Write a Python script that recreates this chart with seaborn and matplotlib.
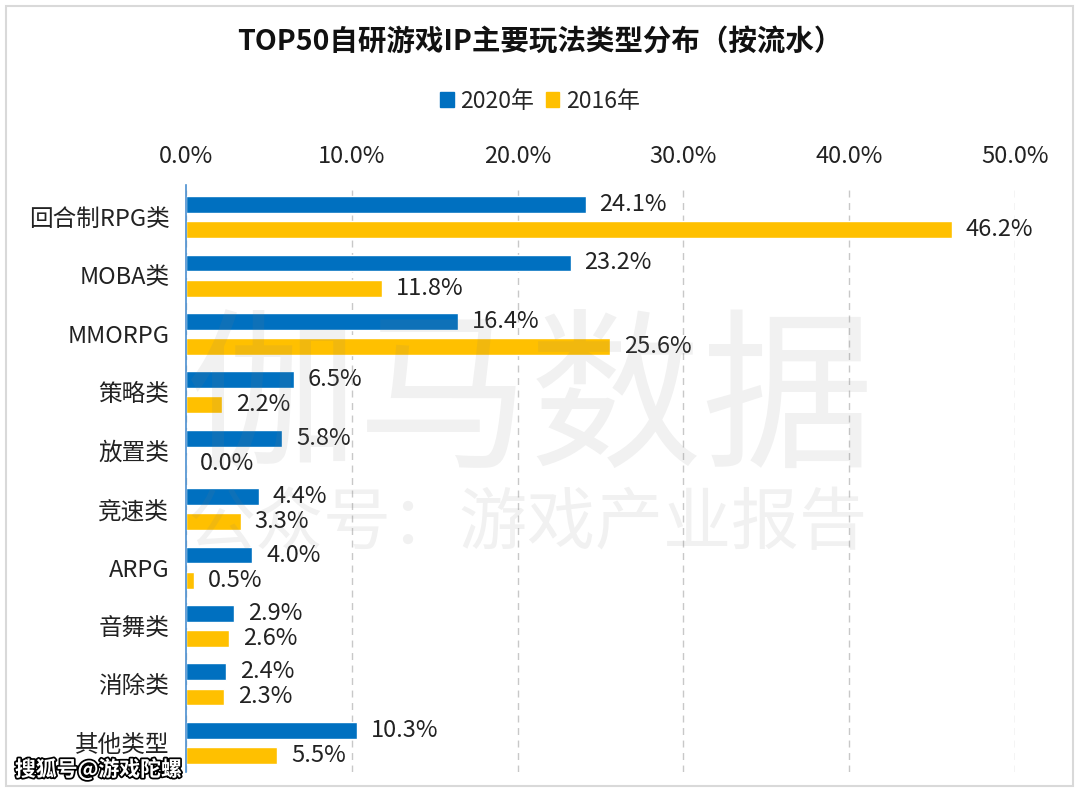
import matplotlib
matplotlib.use("Agg")
import matplotlib.pyplot as plt
import matplotlib.patheffects as pe
from matplotlib.patches import Rectangle
import pandas as pd
import seaborn as sns

# data
categories = ["回合制RPG类", "MOBA类", "MMORPG", "策略类", "放置类",
              "竞速类", "ARPG", "音舞类", "消除类", "其他类型"]
share_2020 = [24.1, 23.2, 16.4, 6.5, 5.8, 4.4, 4.0, 2.9, 2.4, 10.3]
share_2016 = [46.2, 11.8, 25.6, 2.2, 0.0, 3.3, 0.5, 2.6, 2.3, 5.5]
years = ["2020年", "2016年"]
colors = ["#0070C0", "#FFC000"]
x_ticks = [0, 10, 20, 30, 40, 50]

df = pd.DataFrame({
    "类型": categories * 2,
    "占比": share_2020 + share_2016,
    "年份": [years[0]] * len(categories) + [years[1]] * len(categories),
})

sns.set_style("white")
plt.rcParams["font.family"] = ["Noto Sans CJK SC", "DejaVu Sans"]

fig = plt.figure(figsize=(10.8, 7.91), dpi=100)
ax = fig.add_axes([186 / 1080, 1 - 772 / 791, (1015 - 186) / 1080, (772 - 185) / 791])

sns.barplot(data=df, y="类型", x="占比", hue="年份", orient="h",
            palette=colors, width=0.86, gap=0.33, saturation=1,
            legend=False, ax=ax)

for cont in ax.containers:
    ax.bar_label(cont, fmt="%.1f%%", padding=10, fontsize=17, color="#222222")

ax.set_xlim(0, 50)
ax.set_ylim(9.5, -0.55)
ax.set_xticks(x_ticks)
ax.set_xticklabels([f"{t:.1f}%" for t in x_ticks], fontsize=17, color="#222222")
ax.xaxis.tick_top()
ax.tick_params(axis="x", length=0, pad=12)
ax.tick_params(axis="y", length=0, pad=12, labelsize=17, labelcolor="#222222")
ax.set_xlabel("")
ax.set_ylabel("")
ax.grid(axis="x", linestyle=(0, (5, 4)), color="#c8c8c8", linewidth=1)
ax.set_axisbelow(True)
for s in ["top", "right", "bottom"]:
    ax.spines[s].set_visible(False)
ax.spines["left"].set_color("#4a8fd0")
ax.spines["left"].set_linewidth(1.2)

# legend
handles = [Rectangle((0, 0), 1, 1, color=c) for c in colors]
fig.legend(handles, years, loc="center", bbox_to_anchor=(0.5, 1 - 101 / 791),
           ncol=2, frameon=False, fontsize=16.5, handlelength=0.6, handleheight=0.6,
           handletextpad=0.3, columnspacing=0.5)

fig.text(0.5, 1 - 42 / 791, "TOP50自研游戏IP主要玩法类型分布（按流水）",
         ha="center", va="center", fontsize=20.5, fontweight="bold", color="#111111")

# watermark
fig.text(530 / 1080, 1 - 405 / 791, "伽马数据", ha="center", va="center",
         fontsize=124, color="#808080", alpha=0.11, zorder=10)
fig.text(528 / 1080, 1 - 525 / 791, "公众号：游戏产业报告", ha="center", va="center",
         fontsize=49, color="#808080", alpha=0.11, zorder=10)

fig.text(15 / 1080, 1 - 769 / 791, "搜狐号@游戏陀螺", ha="left", va="center",
         fontsize=15, fontweight="bold", color="white", zorder=20,
         path_effects=[pe.withStroke(linewidth=2.5, foreground="black")])

# outer frame
fig.patches.append(Rectangle((6 / 1080, 5 / 791), 1 - 13 / 1080, 1 - 11 / 791,
                             transform=fig.transFigure, fill=False,
                             edgecolor="#d9d9d9", linewidth=1.5))

fig.savefig("out.png", dpi=100)
